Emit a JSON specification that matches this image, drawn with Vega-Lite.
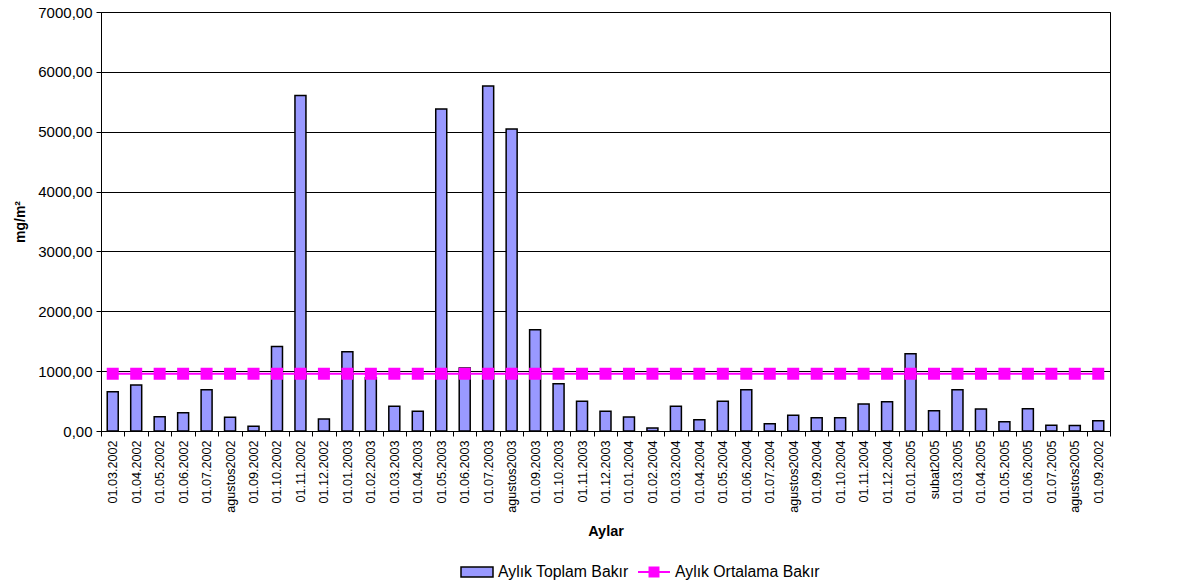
{
  "$schema": "https://vega.github.io/schema/vega-lite/v6.json",
  "width": 1009,
  "height": 419,
  "autosize": {"type": "none"},
  "padding": {"left": 101, "top": 12, "right": 67, "bottom": 154},
  "background": "white",
  "config": {
    "font": "Liberation Sans",
    "view": {"stroke": "black", "strokeWidth": 1},
    "axis": {"labelColor": "black", "titleColor": "black", "domainColor": "black", "tickColor": "black", "gridColor": "black", "gridOpacity": 1, "labelFont": "Liberation Sans", "titleFont": "Liberation Sans"},
    "legend": {"labelFont": "Liberation Sans", "labelColor": "black", "labelFontSize": 15.8, "labelOffset": 4, "symbolSize": 1024, "symbolOpacity": 1, "orient": "none", "direction": "horizontal", "title": null}
  },
  "data": {
    "values": [
      {"i": 0, "ay": "01.03.2002", "toplam": 655, "ort": 956},
      {"i": 1, "ay": "01.04.2002", "toplam": 768, "ort": 956},
      {"i": 2, "ay": "01.05.2002", "toplam": 240, "ort": 956},
      {"i": 3, "ay": "01.06.2002", "toplam": 305, "ort": 956},
      {"i": 4, "ay": "01.07.2002", "toplam": 690, "ort": 956},
      {"i": 5, "ay": "agustos2002", "toplam": 230, "ort": 956},
      {"i": 6, "ay": "01.09.2002", "toplam": 80, "ort": 956},
      {"i": 7, "ay": "01.10.2002", "toplam": 1410, "ort": 956},
      {"i": 8, "ay": "01.11.2002", "toplam": 5605, "ort": 956},
      {"i": 9, "ay": "01.12.2002", "toplam": 200, "ort": 956},
      {"i": 10, "ay": "01.01.2003", "toplam": 1325, "ort": 956},
      {"i": 11, "ay": "01.02.2003", "toplam": 890, "ort": 956},
      {"i": 12, "ay": "01.03.2003", "toplam": 412, "ort": 956},
      {"i": 13, "ay": "01.04.2003", "toplam": 330, "ort": 956},
      {"i": 14, "ay": "01.05.2003", "toplam": 5380, "ort": 956},
      {"i": 15, "ay": "01.06.2003", "toplam": 1052, "ort": 956},
      {"i": 16, "ay": "01.07.2003", "toplam": 5765, "ort": 956},
      {"i": 17, "ay": "agustos2003", "toplam": 5045, "ort": 956},
      {"i": 18, "ay": "01.09.2003", "toplam": 1690, "ort": 956},
      {"i": 19, "ay": "01.10.2003", "toplam": 790, "ort": 956},
      {"i": 20, "ay": "01.11.2003", "toplam": 495, "ort": 956},
      {"i": 21, "ay": "01.12.2003", "toplam": 330, "ort": 956},
      {"i": 22, "ay": "01.01.2004", "toplam": 234, "ort": 956},
      {"i": 23, "ay": "01.02.2004", "toplam": 50, "ort": 956},
      {"i": 24, "ay": "01.03.2004", "toplam": 412, "ort": 956},
      {"i": 25, "ay": "01.04.2004", "toplam": 190, "ort": 956},
      {"i": 26, "ay": "01.05.2004", "toplam": 495, "ort": 956},
      {"i": 27, "ay": "01.06.2004", "toplam": 690, "ort": 956},
      {"i": 28, "ay": "01.07.2004", "toplam": 122, "ort": 956},
      {"i": 29, "ay": "agustos2004", "toplam": 262, "ort": 956},
      {"i": 30, "ay": "01.09.2004", "toplam": 222, "ort": 956},
      {"i": 31, "ay": "01.10.2004", "toplam": 222, "ort": 956},
      {"i": 32, "ay": "01.11.2004", "toplam": 451, "ort": 956},
      {"i": 33, "ay": "01.12.2004", "toplam": 490, "ort": 956},
      {"i": 34, "ay": "01.01.2005", "toplam": 1291, "ort": 956},
      {"i": 35, "ay": "subat2005", "toplam": 340, "ort": 956},
      {"i": 36, "ay": "01.03.2005", "toplam": 690, "ort": 956},
      {"i": 37, "ay": "01.04.2005", "toplam": 367, "ort": 956},
      {"i": 38, "ay": "01.05.2005", "toplam": 156, "ort": 956},
      {"i": 39, "ay": "01.06.2005", "toplam": 373, "ort": 956},
      {"i": 40, "ay": "01.07.2005", "toplam": 95, "ort": 956},
      {"i": 41, "ay": "agustos2005", "toplam": 92, "ort": 956},
      {"i": 42, "ay": "01.09.2002", "toplam": 172, "ort": 956}
    ]
  },
  "encoding": {
    "x": {
      "field": "i",
      "type": "ordinal",
      "scale": {"paddingInner": 0, "paddingOuter": 0},
      "axis": {
        "title": "Aylar",
        "titleFontSize": 14.5,
        "titleFontWeight": "bold",
        "titlePadding": 12,
        "labelAngle": 270,
        "labelAlign": "right",
        "labelBaseline": "middle",
        "labelFontSize": 12.6,
        "labelPadding": 4,
        "tickBand": "extent",
        "tickSize": 5,
        "domainWidth": 1,
        "labelExpr": "['01.03.2002','01.04.2002','01.05.2002','01.06.2002','01.07.2002','agustos2002','01.09.2002','01.10.2002','01.11.2002','01.12.2002','01.01.2003','01.02.2003','01.03.2003','01.04.2003','01.05.2003','01.06.2003','01.07.2003','agustos2003','01.09.2003','01.10.2003','01.11.2003','01.12.2003','01.01.2004','01.02.2004','01.03.2004','01.04.2004','01.05.2004','01.06.2004','01.07.2004','agustos2004','01.09.2004','01.10.2004','01.11.2004','01.12.2004','01.01.2005','subat2005','01.03.2005','01.04.2005','01.05.2005','01.06.2005','01.07.2005','agustos2005','01.09.2002'][datum.value]"
      }
    }
  },
  "layer": [
    {
      "mark": {"type": "bar", "size": 11, "stroke": "black", "strokeWidth": 1.5},
      "encoding": {
        "y": {
          "field": "toplam",
          "type": "quantitative",
          "scale": {"domain": [0, 7000], "nice": false},
          "axis": {
            "title": "mg/m²",
            "titleFontSize": 14,
            "titleFontWeight": "bold",
            "titlePadding": 10,
            "values": [0, 1000, 2000, 3000, 4000, 5000, 6000, 7000],
            "labelExpr": "replace(format(datum.value, '.2f'), '.', ',')",
            "labelFontSize": 15,
            "labelPadding": 4,
            "tickSize": 5,
            "grid": true,
            "gridWidth": 1
          }
        },
        "fill": {
          "datum": "Aylık Toplam Bakır",
          "type": "nominal",
          "scale": {"range": ["#9999FF"]},
          "legend": {
            "legendX": 359,
            "legendY": 543,
            "symbolType": "M-1,-0.31H1V0.31H-1Z",
            "symbolStrokeColor": "black",
            "symbolStrokeWidth": 1.5,
            "symbolFillColor": "#9999FF"
          }
        }
      }
    },
    {
      "mark": {"type": "line", "strokeWidth": 2, "point": {"shape": "square", "filled": true, "fill": "#FF00FF", "size": 100, "opacity": 1}},
      "encoding": {
        "y": {"field": "ort", "type": "quantitative"},
        "stroke": {
          "datum": "Aylık Ortalama Bakır",
          "type": "nominal",
          "scale": {"range": ["#FF00FF"]},
          "legend": {
            "legendX": 536,
            "legendY": 543,
            "symbolType": "M-1,0H1M-0.28,-0.28H0.28V0.28H-0.28Z",
            "symbolStrokeWidth": 2,
            "symbolFillColor": "#FF00FF",
            "symbolStrokeColor": "#FF00FF"
          }
        }
      }
    }
  ]
}
